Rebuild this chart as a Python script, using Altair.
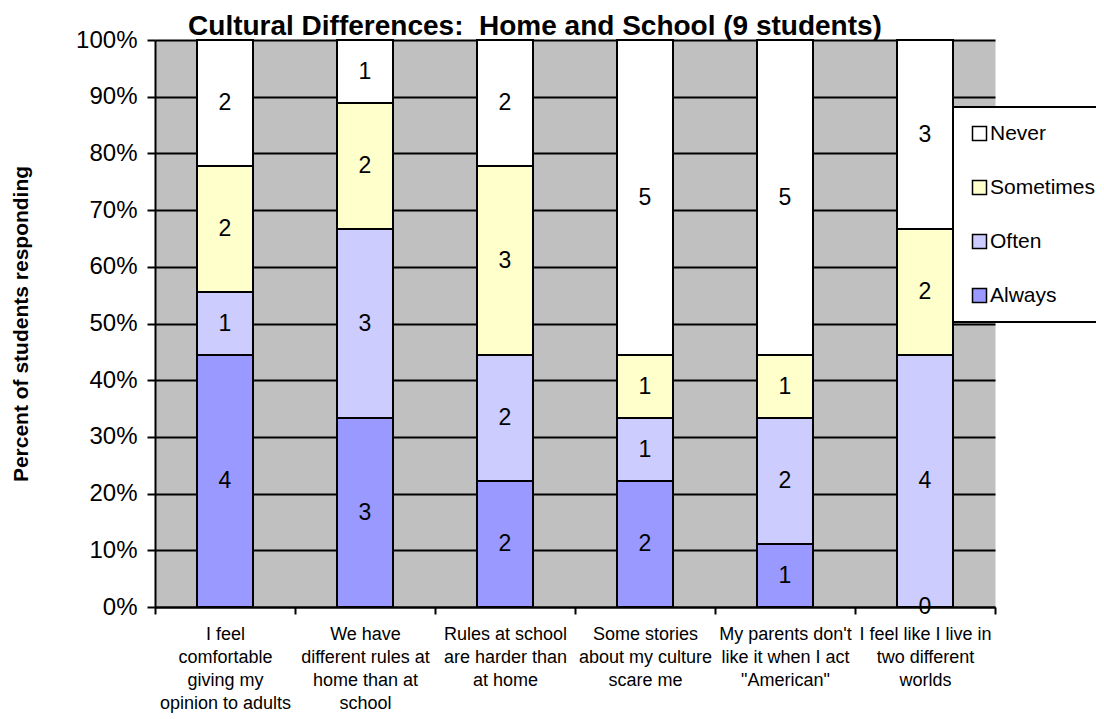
import altair as alt
import pandas as pd

categories = [
    "I feel|comfortable|giving my|opinion to adults",
    "We have|different rules at|home than at|school",
    "Rules at school|are harder than|at home",
    "Some stories|about my culture|scare me",
    "My parents don't|like it when I act|\"American\"",
    "I feel like I live in|two different|worlds",
]
responses = ["Always", "Often", "Sometimes", "Never"]
always = [4, 3, 2, 2, 1, 0]
often = [1, 3, 2, 1, 2, 4]
sometimes = [2, 2, 3, 1, 1, 2]
never = [2, 1, 2, 5, 5, 3]
colors = {"Never": "#FFFFFF", "Sometimes": "#FFFFCC", "Often": "#CCCCFF", "Always": "#9999FF"}

series = {"Always": always, "Often": often, "Sometimes": sometimes, "Never": never}
rows = []
for r_i, r in enumerate(responses):
    for c, v in zip(categories, series[r]):
        rows.append({"q": c, "resp": r, "count": v, "ord": r_i})
df = pd.DataFrame(rows)

FONT = "Liberation Sans"
legend_order = ["Never", "Sometimes", "Often", "Always"]

base = alt.Chart(df).transform_stack(
    stack="count", groupby=["q"], sort=[alt.SortField("ord", order="ascending")],
    as_=["y0", "y1"], offset="normalize"
).transform_calculate(mid="(datum.y0 + datum.y1) / 2")

xenc = alt.X(
    "q:N", sort=categories, title=None,
    scale=alt.Scale(paddingInner=0, paddingOuter=0),
    axis=alt.Axis(
        labelExpr="split(datum.label, '|')", labelAngle=0, labelFontSize=18,
        labelLineHeight=23.3, labelPadding=11, labelFont=FONT, labelColor="black",
        labelLimit=0, labelOverlap=False, tickBand="extent", tickSize=7,
        tickWidth=2, tickColor="black", domainColor="black", domainWidth=2,
        grid=False, labelBaseline="top",
    ),
)

bars = base.mark_bar(stroke="black", strokeWidth=2, width=alt.RelativeBandSize(0.4)).encode(
    x=xenc,
    y=alt.Y(
        "y0:Q", title="Percent of students responding",
        scale=alt.Scale(domain=[0, 1], nice=False),
        axis=alt.Axis(
            format=".0%", values=[i / 10 for i in range(11)], labelFontSize=24,
            labelFont=FONT, labelColor="black", labelPadding=10, tickSize=8,
            tickWidth=2, tickColor="black", domainColor="black", domainWidth=2,
            grid=True, gridColor="black", gridWidth=2, gridOpacity=1,
            titleFont=FONT, titleFontSize=21, titleFontWeight="bold",
            titleColor="black", titleAngle=270, titleAlign="center",
            titleBaseline="alphabetic", titleX=-128, titleY=283.5,
        ),
    ),
    y2="y1:Q",
    color=alt.Color(
        "resp:N",
        scale=alt.Scale(domain=legend_order, range=[colors[k] for k in legend_order]),
        legend=alt.Legend(
            title=None, orient="none", legendX=798, legendY=67,
            fillColor="white", strokeColor="black", padding=16, rowPadding=32,
            symbolType="square", symbolSize=196, symbolStrokeColor="black",
            symbolStrokeWidth=1.5, labelFontSize=21, labelFont=FONT,
            labelColor="black", labelOffset=0, symbolOpacity=1,
        ),
    ),
)

labels = base.mark_text(fontSize=23, font=FONT, color="black", baseline="middle", align="center").encode(
    x=alt.X("q:N", sort=categories),
    y=alt.Y("mid:Q"),
    text="count:Q",
)

chart = alt.layer(bars, labels).properties(
    width=840, height=567,
    autosize=alt.AutoSizeParams(type="none"),
    padding={"left": 147, "top": 32, "right": 101, "bottom": 111},
    title=alt.Title(
        "Cultural Differences:\u00a0 Home and School (9 students)",
        font=FONT, fontSize=28, fontWeight="bold", color="black",
        anchor="middle", dx=-40, dy=17, offset=4,
    ),
).configure_view(fill="#C0C0C0", stroke="transparent").configure_legend(strokeWidth=2)

chart.save("out.html", embed_options={"renderer": "svg", "actions": False})
